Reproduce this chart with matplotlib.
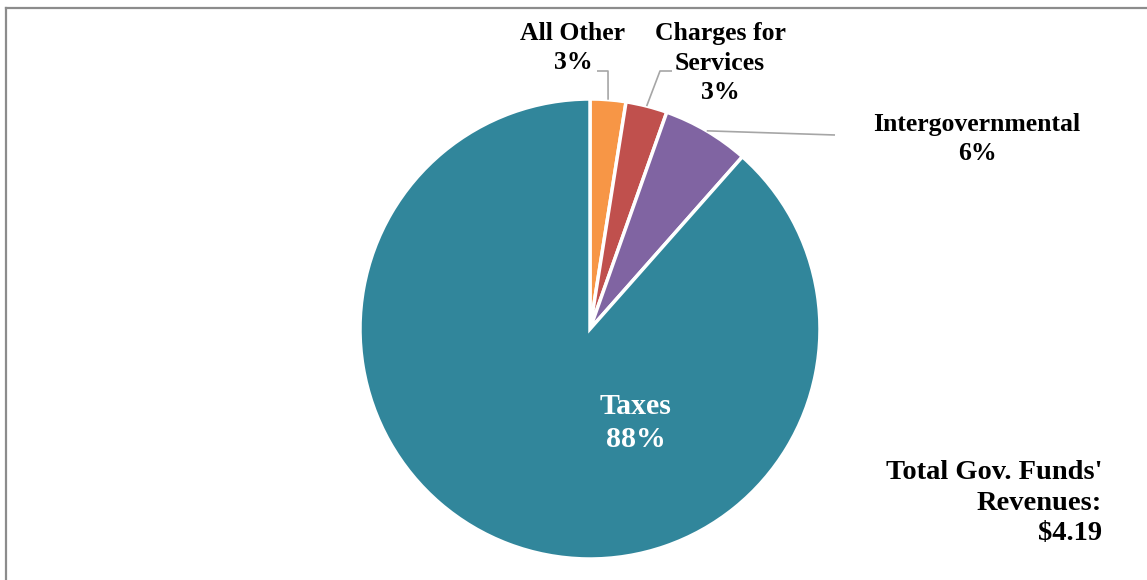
import matplotlib.pyplot as plt
import numpy as np
from matplotlib.lines import Line2D

# revenue by category, $ billions
categories = ["All Other", "Charges for\nServices", "Intergovernmental", "Taxes"]
revenues = [0.105, 0.122, 0.256, 3.707]
colors = ["#F79646", "#C0504D", "#8064A2", "#31869B"]
total_label = "Total Gov. Funds'\nRevenues:\n$4.19"

W, H = 1147, 580
f = plt.figure(figsize=(W / 100, H / 100), dpi=100)
ax = f.add_axes([0, 0, 1, 1])

cx, cy, R = 590, H - 329, 230
wedges, _ = ax.pie(revenues, colors=colors, startangle=90, counterclock=False,
                   center=(cx, cy), radius=R,
                   wedgeprops=dict(edgecolor="white", linewidth=2.5))
ax.set_xlim(0, W)
ax.set_ylim(0, H)
ax.set_aspect("auto")
ax.axis("off")

font = dict(family="Liberation Serif", weight="bold")
total = sum(revenues)
pct = [f"{round(v / total * 100):.0f}%" for v in revenues]

# label positions (pixels from top-left) and leader elbow points
label_xy = [(573, 48), (720, 63), (977, 139)]
elbows = [[(597, 71), (608, 71)], [(672, 71), (660, 71)], [(835, 135)]]

for i in range(3):
    w = wedges[i]
    ang = np.deg2rad((w.theta1 + w.theta2) / 2)
    lx, ly = label_xy[i]
    ax.text(lx, H - ly, f"{categories[i]}\n{pct[i]}", ha="center", va="center",
            fontsize=18.5, linespacing=1.38, color="black", **font)
    pts = [(x, H - y) for x, y in elbows[i]]
    pts.append((cx + R * np.cos(ang), cy + R * np.sin(ang)))
    xs, ys = zip(*pts)
    ax.plot(xs, ys, color="#A6A6A6", lw=1.2, solid_capstyle="butt")

ax.text(636, H - 423, f"{categories[3]}\n{pct[3]}", ha="center", va="center",
        fontsize=21.5, linespacing=1.25, color="white", **font)

ax.text(1102, H - 503, total_label, ha="right", va="center",
        fontsize=20.5, linespacing=1.27, color="black", **font)

# chart frame, top and left edges
f.add_artist(Line2D([5.5 / W, 5.5 / W], [0, 1 - 8 / H], transform=f.transFigure,
                    color="#8C8C8C", lw=1.6))
f.add_artist(Line2D([5.5 / W, 1], [1 - 8 / H, 1 - 8 / H], transform=f.transFigure,
                    color="#8C8C8C", lw=1.6))

f.savefig("out.png", dpi=100)
